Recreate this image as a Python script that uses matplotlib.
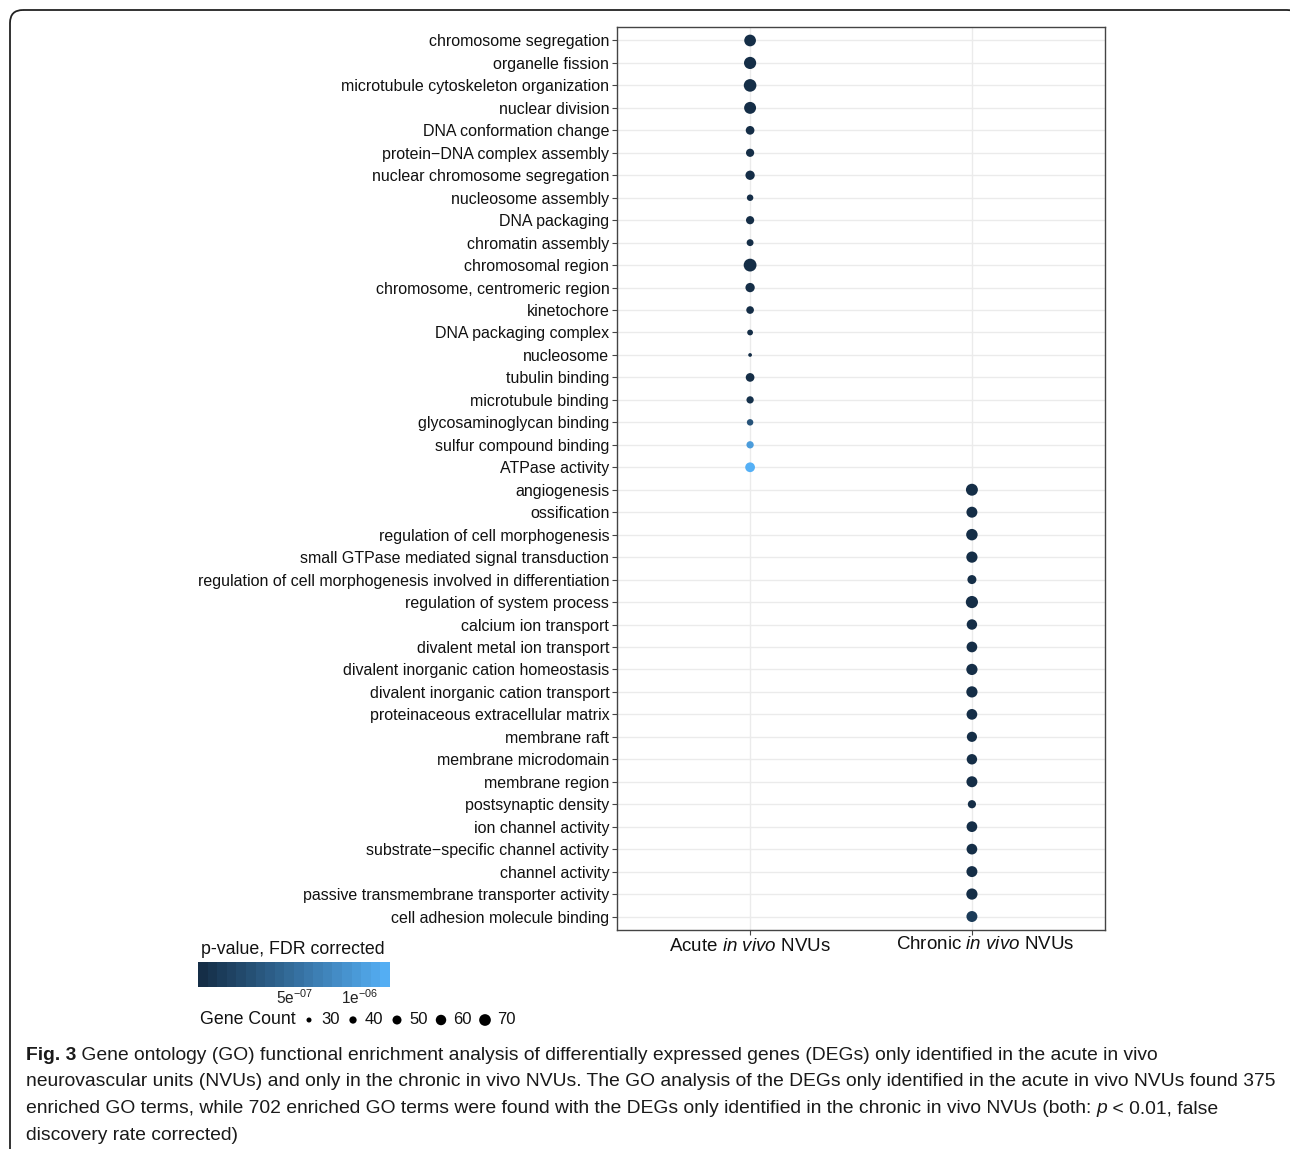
import matplotlib
matplotlib.use("Agg")
import matplotlib.pyplot as plt
import matplotlib.transforms as mtransforms
import numpy as np
from matplotlib.colors import LinearSegmentedColormap, LogNorm
from matplotlib.patches import FancyBboxPatch

plt.rcParams['font.family'] = ['Liberation Sans', 'DejaVu Sans']
plt.rcParams['mathtext.fontset'] = 'custom'
plt.rcParams['mathtext.rm'] = 'Liberation Sans'
plt.rcParams['mathtext.it'] = 'Liberation Sans:italic'

# GO terms (top to bottom)
acute_terms = [
    "chromosome segregation", "organelle fission", "microtubule cytoskeleton organization",
    "nuclear division", "DNA conformation change", "protein\u2212DNA complex assembly",
    "nuclear chromosome segregation", "nucleosome assembly", "DNA packaging",
    "chromatin assembly", "chromosomal region", "chromosome, centromeric region",
    "kinetochore", "DNA packaging complex", "nucleosome", "tubulin binding",
    "microtubule binding", "glycosaminoglycan binding", "sulfur compound binding",
    "ATPase activity",
]
acute_counts = [70, 74, 78, 72, 48, 45, 52, 36, 45, 38, 80, 52, 42, 33, 26, 48, 40, 36, 40, 55]
acute_p = [1.9e-7, 1.9e-7, 1.9e-7, 1.9e-7, 1.9e-7, 1.9e-7, 1.9e-7, 1.9e-7, 1.9e-7, 1.9e-7,
           1.9e-7, 1.9e-7, 1.9e-7, 1.9e-7, 1.9e-7, 1.9e-7, 2.0e-7, 3.3e-7, 1.0e-6, 1.35e-6]

chronic_terms = [
    "angiogenesis", "ossification", "regulation of cell morphogenesis",
    "small GTPase mediated signal transduction",
    "regulation of cell morphogenesis involved in differentiation",
    "regulation of system process", "calcium ion transport", "divalent metal ion transport",
    "divalent inorganic cation homeostasis", "divalent inorganic cation transport",
    "proteinaceous extracellular matrix", "membrane raft", "membrane microdomain",
    "membrane region", "postsynaptic density", "ion channel activity",
    "substrate\u2212specific channel activity", "channel activity",
    "passive transmembrane transporter activity", "cell adhesion molecule binding",
]
chronic_counts = [72, 64, 68, 66, 50, 74, 60, 62, 66, 66, 62, 58, 60, 64, 45, 62, 62, 64, 66, 64]
chronic_p = [1.9e-7] * 19 + [2.3e-7]

groups = [r"Acute $\it{in\ vivo}$ NVUs", r"Chronic $\it{in\ vivo}$ NVUs"]
size_breaks = [30, 40, 50, 60, 70]
p_limits = (1.8e-7, 1.38e-6)
p_breaks = [5e-7, 1e-6]
p_break_labels = [r"5e$^{-07}$", r"1e$^{-06}$"]

cmap = LinearSegmentedColormap.from_list("gg", ["#132B43", "#56B1F7"])
norm = LogNorm(*p_limits)


def dot_area(c):
    return 1.45 * (np.asarray(c, dtype=float) - 21)


fig = plt.figure(figsize=(12.9, 11.49), dpi=100)
W, H = 1290, 1149

# page frame
bg = fig.add_axes([0, 0, 1, 1])
bg.set_xlim(0, W)
bg.set_ylim(H, 0)
bg.axis("off")
bg.add_patch(FancyBboxPatch((10, 10), 1290, 1200, boxstyle="round,pad=0,rounding_size=13",
                            fill=False, ec="#222222", lw=1.3, clip_on=True))

ax = fig.add_axes([617 / W, 1 - 930 / H, 488 / W, 903 / H])
terms = acute_terms + chronic_terms
ypos = np.arange(len(terms))
xs = [1] * len(acute_terms) + [2] * len(chronic_terms)
counts = acute_counts + chronic_counts
pvals = acute_p + chronic_p

ax.scatter(xs, ypos, s=dot_area(counts), c=pvals, cmap=cmap, norm=norm,
           linewidths=0, zorder=3)
ax.set_xlim(0.4, 2.6)
ax.set_ylim(len(terms) - 0.4, -0.6)
ax.set_yticks(ypos)
ax.set_yticklabels(terms, fontsize=11.5, color="#111111")
ax.set_xticks([1, 2])
ax.set_xticklabels(groups, fontsize=13.5, color="#111111")
ax.grid(True, color="#ebebeb", lw=1.0)
ax.set_axisbelow(True)
for sp in ax.spines.values():
    sp.set_color("#444444")
    sp.set_linewidth(1.0)
ax.tick_params(axis="both", length=3.5, width=0.8, color="#444444", pad=2)
ax.tick_params(axis="x", pad=2)
lab = ax.get_xticklabels()[1]
lab.set_transform(lab.get_transform() + mtransforms.ScaledTranslation(0.13, 0.02, fig.dpi_scale_trans))

# colour legend
fig.text(201 / W, 1 - 950 / H, "p-value, FDR corrected", fontsize=12.8, va="center", color="#111111")
cax = fig.add_axes([198 / W, 1 - 987 / H, 192 / W, 25 / H])
edges = np.logspace(np.log10(p_limits[0]), np.log10(p_limits[1]), 21)
mids = np.sqrt(edges[:-1] * edges[1:])
cax.pcolormesh(edges, [0, 1], mids[None, :], cmap=cmap, norm=norm, shading="flat")
cax.set_xscale("log")
cax.set_xlim(*p_limits)
cax.set_ylim(0, 1)
cax.set_yticks([])
cax.set_xticks(p_breaks)
cax.set_xticklabels(p_break_labels, fontsize=11.2, color="#222222")
cax.xaxis.set_minor_locator(matplotlib.ticker.NullLocator())
cax.tick_params(axis="x", length=0, pad=1)
for sp in cax.spines.values():
    sp.set_visible(False)

# size legend
fig.text(200 / W, 1 - 1020 / H, "Gene Count", fontsize=12.8, va="center", color="#111111")
sax = fig.add_axes([300 / W, 1 - 1032 / H, 230 / W, 24 / H])
sax.axis("off")
sax.set_xlim(300, 530)
sax.set_ylim(0, 1)
lx = [309, 353, 397, 441, 485]
sax.scatter(lx, [0.5] * 5, s=dot_area(size_breaks), c="black", linewidths=0)
for x, b in zip(lx, size_breaks):
    sax.text(x + 12, 0.5, str(b), fontsize=12, va="center", ha="left", color="#111111")

# caption
cap_font = ['Liberation Sans Narrow', 'Liberation Sans', 'DejaVu Sans']
cs = 13.9
t0 = fig.text(26 / W, 1 - 1064 / H, "Fig. 3", fontsize=cs, fontweight="bold", color="#1a1a1a",
              family=cap_font, va="bottom")
bg.annotate(" Gene ontology (GO) functional enrichment analysis of differentially expressed genes (DEGs) only identified in the acute in vivo",
            xy=(1, 0), xycoords=t0, va="bottom", ha="left", fontsize=cs, color="#1a1a1a", family=cap_font)
lines = [
    "neurovascular units (NVUs) and only in the chronic in vivo NVUs. The GO analysis of the DEGs only identified in the acute in vivo NVUs found 375",
    "enriched GO terms, while 702 enriched GO terms were found with the DEGs only identified in the chronic in vivo NVUs (both: ",
    "discovery rate corrected)",
]
ly = [1090, 1117, 1144]
t2 = None
for i, (ln, y) in enumerate(zip(lines, ly)):
    t = fig.text(26 / W, 1 - y / H, ln, fontsize=cs, color="#1a1a1a", family=cap_font, va="bottom")
    if i == 1:
        t2 = t
tp = bg.annotate("p", xy=(1, 0), xycoords=t2, va="bottom", ha="left", fontsize=cs,
                 style="italic", color="#1a1a1a", family=cap_font)
bg.annotate(" < 0.01, false", xy=(1, 0), xycoords=tp, va="bottom", ha="left", fontsize=cs,
            color="#1a1a1a", family=cap_font)

fig.savefig("out.png", dpi=100)
